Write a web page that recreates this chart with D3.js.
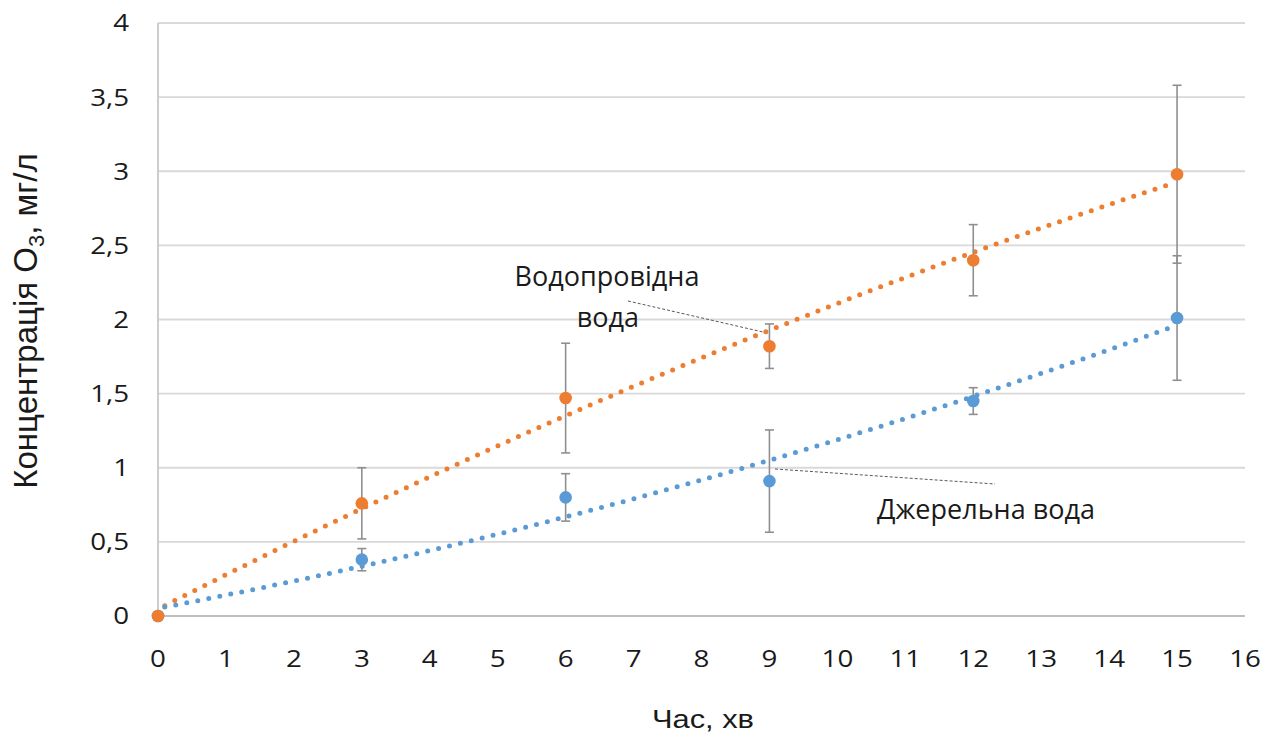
<!DOCTYPE html>
<html>
<head>
<meta charset="utf-8">
<script src="https://cdn.jsdelivr.net/npm/d3@7"></script>
<style>
  html, body { margin: 0; padding: 0; background: #ffffff; }
  svg { display: block; }
</style>
</head>
<body>
<svg id="chart" width="1276" height="739"></svg>
<script>
// Ozone concentration over time for two water sources
const times = [0, 3, 6, 9, 12, 15];
const tapWater = [0, 0.76, 1.47, 1.82, 2.40, 2.98];
const tapError = [0, 0.24, 0.37, 0.15, 0.24, 0.60];
const springWater = [0, 0.38, 0.80, 0.91, 1.45, 2.01];
const springError = [0, 0.075, 0.16, 0.345, 0.09, 0.42];

const xTicks = d3.range(0, 17, 1);
const yTicks = [0, 0.5, 1, 1.5, 2, 2.5, 3, 3.5, 4];

const tapLabel = ["Водопровідна", "вода"];
const springLabel = "Джерельна вода";
const xTitle = "Час, хв";

const orange = "#ED7D31";
const blue = "#5B9BD5";
const tickFont = "'Open Sans', 'Noto Sans', sans-serif";
const titleFont = "'Liberation Sans', Arial, sans-serif";
const ink = "#1a1a1a";

const svg = d3.select("#chart");
const x = d3.scaleLinear().domain([0, 16]).range([158, 1245]);
const y = d3.scaleLinear().domain([0, 4]).range([616, 23]);

// horizontal gridlines
svg.append("g")
  .selectAll("line")
  .data(yTicks.filter(d => d > 0))
  .join("line")
  .attr("x1", x(0)).attr("x2", x(16))
  .attr("y1", d => y(d)).attr("y2", d => y(d))
  .attr("stroke", "#d9d9d9").attr("stroke-width", 1.8);

// axis lines
svg.append("line")
  .attr("x1", x(0)).attr("x2", x(0)).attr("y1", y(4)).attr("y2", y(0))
  .attr("stroke", "#c8c8c8").attr("stroke-width", 1.8);
svg.append("line")
  .attr("x1", x(0)).attr("x2", x(16)).attr("y1", y(0)).attr("y2", y(0))
  .attr("stroke", "#bfbfbf").attr("stroke-width", 1.8);

// tick labels (slightly widened glyphs)
const fmt = d => String(d).replace(".", ",");
const tickScale = 1.18;
svg.append("g")
  .selectAll("text")
  .data(yTicks)
  .join("text")
  .attr("transform", d => `translate(129,${y(d)}) scale(${tickScale},1)`)
  .attr("dy", "0.36em")
  .attr("text-anchor", "end")
  .attr("font-family", tickFont).attr("font-size", 23.5)
  .attr("fill", ink)
  .text(fmt);

svg.append("g")
  .selectAll("text")
  .data(xTicks)
  .join("text")
  .attr("transform", d => `translate(${x(d)},667) scale(${tickScale},1)`)
  .attr("text-anchor", "middle")
  .attr("font-family", tickFont).attr("font-size", 23.5)
  .attr("fill", ink)
  .text(d => d);

// axis titles
svg.append("text")
  .attr("x", 652).attr("y", 728)
  .attr("textLength", 102).attr("lengthAdjust", "spacingAndGlyphs")
  .attr("font-family", titleFont).attr("font-size", 26)
  .attr("fill", ink)
  .text(xTitle);

const yTitle = svg.append("text")
  .attr("transform", "translate(37,321) rotate(-90)")
  .attr("text-anchor", "middle")
  .attr("font-family", titleFont).attr("font-size", 33)
  .attr("fill", ink);
yTitle.append("tspan").text("Концентрація O");
yTitle.append("tspan").attr("font-size", 22).attr("dy", 7).text("3");
yTitle.append("tspan").attr("dy", -7).text(", мг/л");

// second-order polynomial least-squares trend
function quadFit(xs, ys) {
  const n = xs.length;
  let s = [0, 0, 0, 0, 0], t = [0, 0, 0];
  for (let i = 0; i < n; i++) {
    for (let k = 0; k < 5; k++) s[k] += Math.pow(xs[i], k);
    for (let k = 0; k < 3; k++) t[k] += ys[i] * Math.pow(xs[i], k);
  }
  const A = [[s[0], s[1], s[2], t[0]], [s[1], s[2], s[3], t[1]], [s[2], s[3], s[4], t[2]]];
  for (let c = 0; c < 3; c++) {
    for (let r = c + 1; r < 3; r++) {
      const f = A[r][c] / A[c][c];
      for (let k = c; k < 4; k++) A[r][k] -= f * A[c][k];
    }
  }
  const b = [0, 0, 0];
  for (let r = 2; r >= 0; r--) {
    let v = A[r][3];
    for (let k = r + 1; k < 3; k++) v -= A[r][k] * b[k];
    b[r] = v / A[r][r];
  }
  return v => b[0] + b[1] * v + b[2] * v * v;
}

const series = [
  { values: tapWater, errors: tapError, color: orange },
  { values: springWater, errors: springError, color: blue }
];

const line = d3.line().x(d => x(d[0])).y(d => y(d[1]));
const xs = d3.range(0.1, 14.95, 0.2);

series.forEach(s => {
  const f = quadFit(times, s.values);
  svg.append("path")
    .attr("d", line(xs.map(v => [v, f(v)])))
    .attr("fill", "none")
    .attr("stroke", s.color)
    .attr("stroke-width", 5)
    .attr("stroke-linecap", "round")
    .attr("stroke-dasharray", "0 11.2");
});

// error bars
series.forEach(s => {
  const g = svg.append("g").attr("stroke", "#8f8f8f").attr("stroke-width", 1.6);
  times.forEach((t, i) => {
    if (!s.errors[i]) return;
    const lo = y(s.values[i] - s.errors[i]);
    const hi = y(s.values[i] + s.errors[i]);
    g.append("line").attr("x1", x(t)).attr("x2", x(t)).attr("y1", lo).attr("y2", hi);
    g.append("line").attr("x1", x(t) - 4.5).attr("x2", x(t) + 4.5).attr("y1", lo).attr("y2", lo);
    g.append("line").attr("x1", x(t) - 4.5).attr("x2", x(t) + 4.5).attr("y1", hi).attr("y2", hi);
  });
});

// markers
[series[1], series[0]].forEach(s => {
  svg.append("g")
    .selectAll("circle")
    .data(times.map((t, i) => [t, s.values[i]]))
    .join("circle")
    .attr("cx", d => x(d[0])).attr("cy", d => y(d[1]))
    .attr("r", 6.3)
    .attr("fill", s.color);
});

// callout labels with leader lines
const leader = (x1, y1, x2, y2) => svg.append("line")
  .attr("x1", x1).attr("y1", y1).attr("x2", x2).attr("y2", y2)
  .attr("stroke", "#595959").attr("stroke-width", 1)
  .attr("stroke-dasharray", "3 2");
leader(628, 301, 763, 332);
leader(775, 469, 995, 484);

const callout = (tx, ty, str) => svg.append("text")
  .attr("x", tx).attr("y", ty)
  .attr("text-anchor", "middle")
  .attr("font-family", tickFont).attr("font-size", 27)
  .attr("fill", ink)
  .text(str);
callout(607, 286, tapLabel[0]);
callout(608, 327, tapLabel[1]);
callout(986, 519, springLabel);
</script>
</body>
</html>
